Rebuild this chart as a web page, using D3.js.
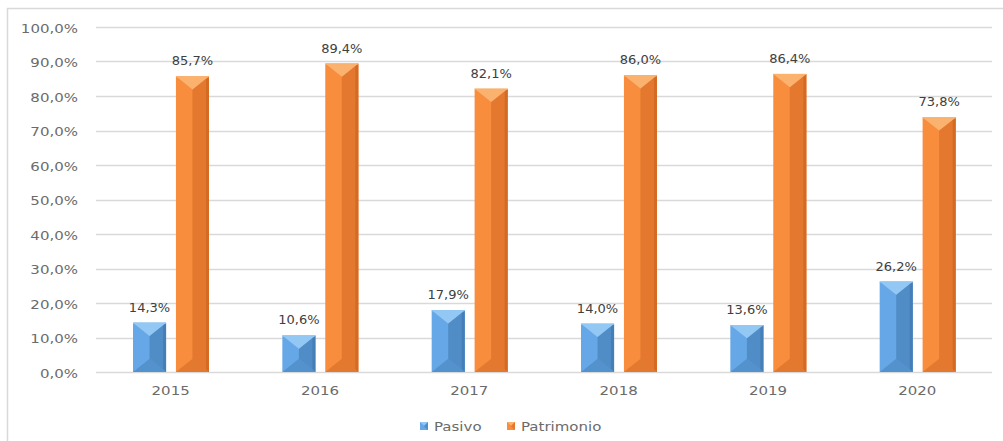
<!DOCTYPE html>
<html>
<head>
<meta charset="utf-8">
<script src="https://cdn.jsdelivr.net/npm/d3@7"></script>
<style>
	body { margin: 0; background: #fff; }
	text { font-family: "DejaVu Sans", Verdana, sans-serif; }
</style>
</head>
<body>
<div id="chart"></div>
<script>
var years = ["2015", "2016", "2017", "2018", "2019", "2020"];
var seriesNames = ["Pasivo", "Patrimonio"];
var pasivo = [14.3, 10.6, 17.9, 14.0, 13.6, 26.2];
var patrimonio = [85.7, 89.4, 82.1, 86.0, 86.4, 73.8];
var yTicks = [0, 10, 20, 30, 40, 50, 60, 70, 80, 90, 100];

//COLOURS FOR EACH BEVEL FACE
var palette = {
	"Pasivo": {left: "#66a8e7", right: "#508dc7", top: "#93c8f4", bottom: "#3f77ad"},
	"Patrimonio": {left: "#f78d3d", right: "#e3782e", top: "#fbb26f", bottom: "#c9621f"}
};

var W = 1003, H = 441;
var margin = {left: 96, right: 11, top: 27, bottom: 69};
var STRETCH = 1.2;  //REFERENCE TEXT IS WIDER THAN IT IS TALL

var svg = d3.select("#chart").append("svg")
	.attr("width", W)
	.attr("height", H);

//CHART BORDER
svg.append("rect")
	.attr("x", 7.5).attr("y", 8.5)
	.attr("width", W).attr("height", H)
	.attr("fill", "none")
	.attr("stroke", "#d9d9d9")
	.attr("stroke-width", 1.5);

var x0 = d3.scaleBand().domain(years).range([margin.left, W - margin.right]);
var x1 = d3.scaleBand().domain(seriesNames).range([37, 113]).paddingInner(0.23);
var y = d3.scaleLinear().domain([0, 100]).range([H - margin.bottom, margin.top]);

var fmt = function(v){
	return d3.format(".1f")(v).replace(".", ",") + "%";
};

function place(sel, fx, fy){
	sel.attr("transform", function(d, i){
		return "translate(" + fx(d, i) + "," + fy(d, i) + ") scale(" + STRETCH + ",1)";
	});
}

//GRIDLINES
svg.append("g")
	.selectAll("line")
	.data(yTicks)
	.enter().append("line")
	.attr("x1", margin.left).attr("x2", W - margin.right)
	.attr("y1", function(d){ return Math.round(y(d)) + 0.5; })
	.attr("y2", function(d){ return Math.round(y(d)) + 0.5; })
	.attr("stroke", "#d9d9d9")
	.attr("stroke-width", 1.5);

//Y AXIS LABELS
svg.append("g")
	.selectAll("text")
	.data(yTicks)
	.enter().append("text")
	.call(place, function(){ return 78; }, function(d){ return y(d) + 5.5; })
	.attr("text-anchor", "end")
	.attr("font-size", 12.5)
	.attr("fill", "#6b6b6b")
	.text(fmt);

//X AXIS LABELS
svg.append("g")
	.selectAll("text")
	.data(years)
	.enter().append("text")
	.call(place, function(d){ return x0(d) + x0.bandwidth() / 2; }, function(){ return H - margin.bottom + 23; })
	.attr("text-anchor", "middle")
	.attr("font-size", 12.5)
	.attr("fill", "#6b6b6b")
	.text(function(d){ return d; });

var rows = [];
years.forEach(function(yr, i){
	rows.push({year: yr, series: "Pasivo", value: pasivo[i]});
	rows.push({year: yr, series: "Patrimonio", value: patrimonio[i]});
});

//BEVELED BARS
var bars = svg.append("g")
	.selectAll("g")
	.data(rows)
	.enter().append("g");

bars.each(function(d){
	var g = d3.select(this);
	var c = palette[d.series];
	var bx = x0(d.year) + x1(d.series);
	var bw = x1.bandwidth();
	var top = y(d.value);
	var bot = y(0);
	var bh = bot - top;
	var bev = Math.min(bw * 0.4, bh / 2);
	var mid = bx + bw / 2;

	g.append("rect")
		.attr("x", bx).attr("y", top)
		.attr("width", bw).attr("height", bh)
		.attr("fill", c.left);
	//DARKER RIGHT HALF
	g.append("polygon")
		.attr("points", [[mid, top + bev], [bx + bw, top], [bx + bw, bot], [mid, bot - bev]].join(" "))
		.attr("fill", c.right);
	//THIN RIGHT EDGE
	g.append("polygon")
		.attr("points", [[bx + bw - 3, top + 3], [bx + bw, top], [bx + bw, bot], [bx + bw - 3, bot - 3]].join(" "))
		.attr("fill", c.bottom)
		.attr("opacity", 0.6);
	//BOTTOM BEVEL
	g.append("polygon")
		.attr("points", [[bx, bot], [mid, bot - bev], [bx + bw, bot]].join(" "))
		.attr("fill", c.bottom)
		.attr("opacity", 0.45);
	//TOP BEVEL
	g.append("polygon")
		.attr("points", [[bx, top], [bx + bw, top], [mid, top + bev]].join(" "))
		.attr("fill", c.top);
	g.append("line")
		.attr("x1", bx).attr("x2", bx + bw)
		.attr("y1", top + 0.5).attr("y2", top + 0.5)
		.attr("stroke", c.top);
});

//VALUE LABELS
svg.append("g")
	.selectAll("text")
	.data(rows)
	.enter().append("text")
	.attr("x", function(d){ return x0(d.year) + x1(d.series) + x1.bandwidth() / 2; })
	.attr("y", function(d){ return y(d.value) - 11; })
	.attr("text-anchor", "middle")
	.attr("font-size", 13)
	.attr("fill", "#404040")
	.text(function(d){ return fmt(d.value); });

//LEGEND
var legend = svg.append("g").attr("transform", "translate(420,422)");
var lx = [0, 87];
seriesNames.forEach(function(s, i){
	var c = palette[s];
	var lg = legend.append("g").attr("transform", "translate(" + lx[i] + ",0)");
	lg.append("rect").attr("x", 0).attr("y", 0).attr("width", 8).attr("height", 8).attr("fill", c.left);
	lg.append("polygon").attr("points", "0,0 8,0 4,3.5").attr("fill", c.top);
	lg.append("polygon").attr("points", "8,0 8,8 4,4.5").attr("fill", c.right);
	lg.append("text")
		.attr("transform", "translate(14,8.7) scale(" + STRETCH + ",1)")
		.attr("font-size", 12.5)
		.attr("fill", "#6b6b6b")
		.text(s);
});
</script>
</body>
</html>
